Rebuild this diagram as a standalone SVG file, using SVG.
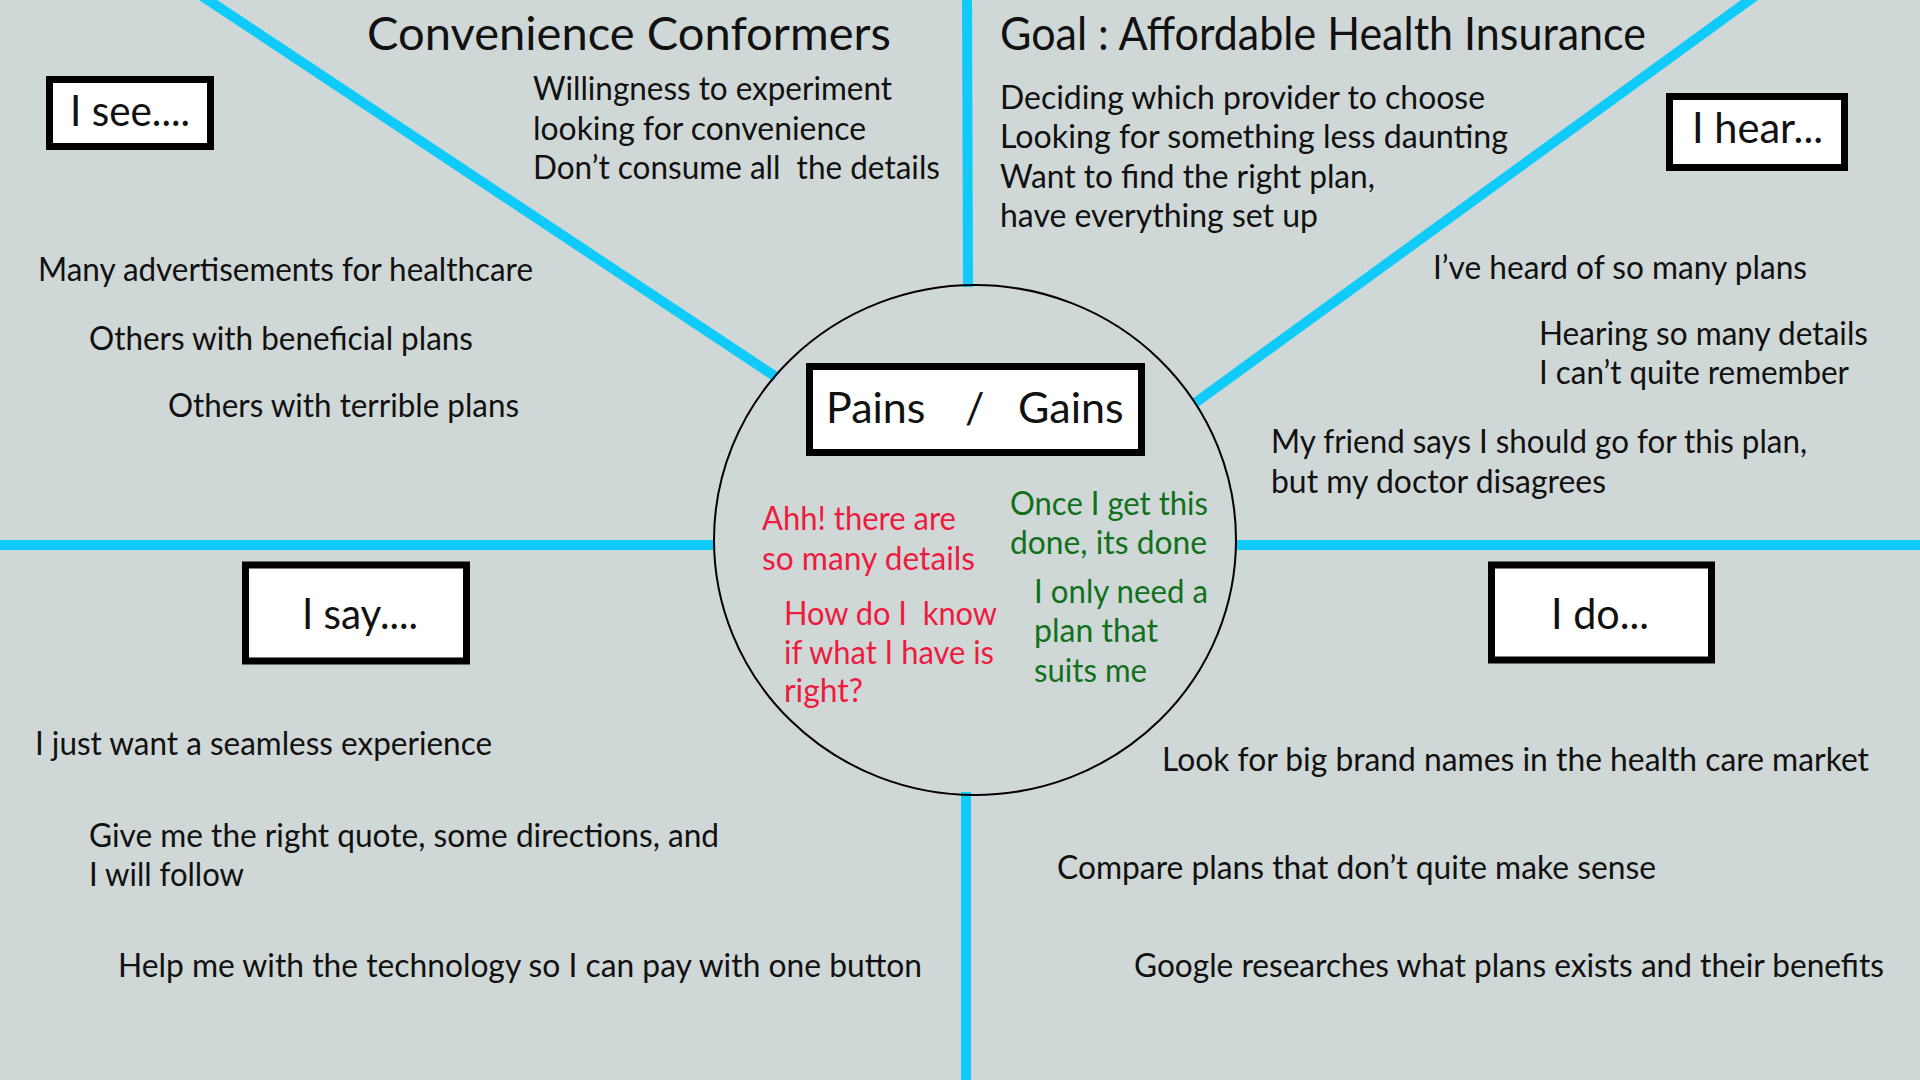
<svg xmlns="http://www.w3.org/2000/svg" width="1920" height="1080" viewBox="0 0 1920 1080">
<style>
text { font-family: Lato, "Open Sans", "Liberation Sans", sans-serif; fill: #111; }
.t { font-size: 32px; }
.h { font-size: 47px; }
.b { font-size: 43px; }
.pre { white-space: pre; }
.red { fill: #EE1B40; }
.grn { fill: #12701D; }
.line { stroke: #10CBF9; stroke-width: 10; fill: none; }
.box { fill: #FFFFFF; stroke: #000; stroke-width: 7; }
</style>
<rect x="0" y="0" width="1920" height="1080" fill="#CFD8D7"/>

<g id="connectors">
  <line class="line" x1="202" y1="-4" x2="776" y2="377"/>
  <line class="line" x1="1755" y1="-4" x2="1195" y2="403"/>
  <line class="line" x1="967" y1="0" x2="968" y2="287"/>
  <line class="line" x1="966" y1="792" x2="966" y2="1080"/>
  <line class="line" x1="0" y1="545" x2="715" y2="545"/>
  <line class="line" x1="1235" y1="545" x2="1920" y2="545"/>
</g>

<g id="center-circle">
  <ellipse cx="975" cy="540" rx="261" ry="255" fill="none" stroke="#000" stroke-width="2"/>
</g>

<g id="title">
  <text class="h" x="367" y="50" textLength="524" lengthAdjust="spacingAndGlyphs">Convenience Conformers</text>
</g>

<g id="persona-traits">
  <text class="t" x="533" y="100" textLength="359" lengthAdjust="spacingAndGlyphs">Willingness to experiment</text>
  <text class="t" x="533" y="140" textLength="333" lengthAdjust="spacingAndGlyphs">looking for convenience</text>
  <text class="t pre" x="533" y="179" textLength="407" lengthAdjust="spacingAndGlyphs">Don’t consume all  the details</text>
</g>

<g id="goal">
  <text class="h" x="1000" y="50" textLength="646" lengthAdjust="spacingAndGlyphs">Goal : Affordable Health Insurance</text>
  <text class="t" x="1000" y="109" textLength="485" lengthAdjust="spacingAndGlyphs">Deciding which provider to choose</text>
  <text class="t" x="1000" y="148" textLength="508" lengthAdjust="spacingAndGlyphs">Looking for something less daunting</text>
  <text class="t" x="1000" y="188" textLength="375" lengthAdjust="spacingAndGlyphs">Want to find the right plan,</text>
  <text class="t" x="1000" y="227" textLength="318" lengthAdjust="spacingAndGlyphs">have everything set up</text>
</g>

<g id="i-see">
  <rect class="box" x="49.5" y="79.5" width="161" height="67"/>
  <text class="b" x="70" y="126" textLength="120" lengthAdjust="spacingAndGlyphs">I see....</text>
  <text class="t" x="38" y="281" textLength="495" lengthAdjust="spacingAndGlyphs">Many advertisements for healthcare</text>
  <text class="t" x="89" y="350" textLength="384" lengthAdjust="spacingAndGlyphs">Others with beneficial plans</text>
  <text class="t" x="168" y="417" textLength="351" lengthAdjust="spacingAndGlyphs">Others with terrible plans</text>
</g>

<g id="i-hear">
  <rect class="box" x="1669.5" y="96.5" width="175" height="71"/>
  <text class="b" x="1692" y="143" textLength="131" lengthAdjust="spacingAndGlyphs">I hear...</text>
  <text class="t" x="1433" y="279" textLength="374" lengthAdjust="spacingAndGlyphs">I’ve heard of so many plans</text>
  <text class="t" x="1539" y="345" textLength="329" lengthAdjust="spacingAndGlyphs">Hearing so many details</text>
  <text class="t" x="1539" y="384" textLength="310" lengthAdjust="spacingAndGlyphs">I can’t quite remember</text>
  <text class="t" x="1271" y="453" textLength="536" lengthAdjust="spacingAndGlyphs">My friend says I should go for this plan,</text>
  <text class="t" x="1271" y="493" textLength="335" lengthAdjust="spacingAndGlyphs">but my doctor disagrees</text>
</g>

<g id="pains-gains">
  <rect class="box" x="809.5" y="366.5" width="332" height="86"/>
  <text class="b" y="423"><tspan x="826">Pains</tspan><tspan x="954"> / </tspan><tspan x="1018">Gains</tspan></text>
</g>

<g id="pains">
  <text class="t red" x="762" y="530" textLength="194" lengthAdjust="spacingAndGlyphs">Ahh! there are</text>
  <text class="t red" x="762" y="570" textLength="213" lengthAdjust="spacingAndGlyphs">so many details</text>
  <text class="t red pre" x="784" y="625" textLength="213" lengthAdjust="spacingAndGlyphs">How do I  know</text>
  <text class="t red" x="784" y="664" textLength="210" lengthAdjust="spacingAndGlyphs">if what I have is</text>
  <text class="t red" x="784" y="702" textLength="79" lengthAdjust="spacingAndGlyphs">right?</text>
</g>

<g id="gains">
  <text class="t grn" x="1010" y="515" textLength="198" lengthAdjust="spacingAndGlyphs">Once I get this</text>
  <text class="t grn" x="1010" y="554" textLength="197" lengthAdjust="spacingAndGlyphs">done, its done</text>
  <text class="t grn" x="1034" y="603" textLength="174" lengthAdjust="spacingAndGlyphs">I only need a</text>
  <text class="t grn" x="1034" y="642" textLength="124" lengthAdjust="spacingAndGlyphs">plan that</text>
  <text class="t grn" x="1034" y="682" textLength="113" lengthAdjust="spacingAndGlyphs">suits me</text>
</g>

<g id="i-say">
  <rect class="box" x="245.5" y="565" width="221" height="96"/>
  <text class="b" x="302" y="629" textLength="116" lengthAdjust="spacingAndGlyphs">I say....</text>
  <text class="t" x="35" y="755" textLength="457" lengthAdjust="spacingAndGlyphs">I just want a seamless experience</text>
  <text class="t" x="89" y="847" textLength="630" lengthAdjust="spacingAndGlyphs">Give me the right quote, some directions, and</text>
  <text class="t" x="89" y="886" textLength="155" lengthAdjust="spacingAndGlyphs">I will follow</text>
  <text class="t" x="118" y="977" textLength="804" lengthAdjust="spacingAndGlyphs">Help me with the technology so I can pay with one button</text>
</g>

<g id="i-do">
  <rect class="box" x="1491.5" y="565" width="220" height="95"/>
  <text class="b" x="1551" y="629" textLength="98" lengthAdjust="spacingAndGlyphs">I do...</text>
  <text class="t" x="1162" y="771" textLength="707" lengthAdjust="spacingAndGlyphs">Look for big brand names in the health care market</text>
  <text class="t" x="1057" y="879" textLength="599" lengthAdjust="spacingAndGlyphs">Compare plans that don’t quite make sense</text>
  <text class="t" x="1134" y="977" textLength="750" lengthAdjust="spacingAndGlyphs">Google researches what plans exists and their benefits</text>
</g>
</svg>
